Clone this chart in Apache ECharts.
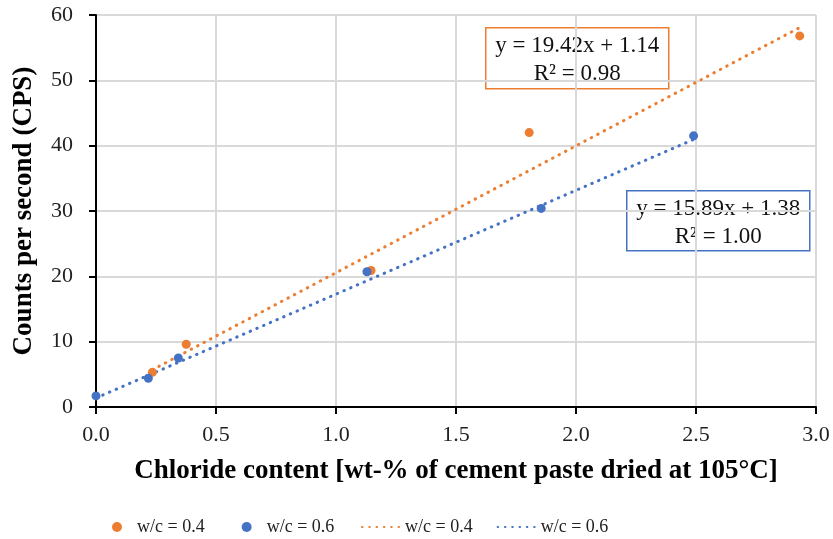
<!DOCTYPE html>
<html>
<head>
<meta charset="utf-8">
<script src="https://cdn.jsdelivr.net/npm/echarts@6/dist/echarts.min.js"></script>
<style>html,body{margin:0;padding:0;background:#fff}#c{width:833px;height:539px}</style>
</head>
<body>
<div id="c"></div>
<script>
// Data
var wc04Points = [[0.235, 5.3], [0.376, 9.6], [1.146, 20.9], [1.805, 42.0], [2.932, 56.8]];
var wc06Points = [[0.0, 1.7], [0.218, 4.4], [0.343, 7.5], [1.129, 20.7], [1.855, 30.4], [2.49, 41.5]];
// Trendline endpoints (y = 19.42x + 1.14 and y = 15.89x + 1.38)
var wc04Trend = [[0.235, 5.70], [2.932, 58.08]];
var wc06Trend = [[0.0, 1.38], [2.49, 40.95]];
var xTicks = ['0.0', '0.5', '1.0', '1.5', '2.0', '2.5', '3.0'];
var yTicks = [0, 10, 20, 30, 40, 50, 60];
var eq04 = ['y = 19.42x + 1.14', 'R² = 0.98'];
var eq06 = ['y = 15.89x + 1.38', 'R² = 1.00'];

var ORANGE = '#ED7D31', BLUE = '#4472C4';
var FONT = '"Liberation Serif", "Times New Roman", serif';
var ZW = '\u200b';

var chart = echarts.init(document.getElementById('c'));
function box(left, top, w, h, color, lines) {
  return {
    type: 'group', left: left, top: top,
    children: [
      {type: 'rect', shape: {x: 0, y: 0, width: w, height: h}, style: {fill: '#fff', stroke: color, lineWidth: 1.5}},
      {type: 'text', x: w / 2, y: h / 2 + 2, style: {text: lines.join('\n'), fill: '#111', font: '23px ' + FONT, align: 'center', verticalAlign: 'middle', lineHeight: 28}}
    ]
  };
}
var dotStyle = function (c) { return {color: c, width: 3, type: [0.5, 6.8], cap: 'round'}; };
chart.setOption({
  animation: false,
  backgroundColor: '#fff',
  grid: {left: 96, right: 17, top: 15, bottom: 132},
  xAxis: {
    type: 'value', min: 0, max: 3, interval: 0.5,
    name: 'Chloride content [wt-% of cement paste dried at 105°C]',
    nameLocation: 'middle', nameGap: 51,
    nameTextStyle: {fontFamily: FONT, fontSize: 27, fontWeight: 'bold', color: '#000'},
    axisLine: {lineStyle: {color: '#000', width: 2}},
    axisTick: {show: true, length: 7, lineStyle: {color: '#000', width: 2}},
    axisLabel: {fontFamily: FONT, fontSize: 22, color: '#222', margin: 17,
      formatter: function (v) { return xTicks[Math.round(v / 0.5)]; }},
    splitLine: {show: true, lineStyle: {color: '#d9d9d9', width: 2}}
  },
  yAxis: {
    type: 'value', min: yTicks[0], max: yTicks[yTicks.length - 1], interval: 10,
    name: 'Counts per second (CPS)',
    nameLocation: 'middle', nameGap: 58,
    nameTextStyle: {fontFamily: FONT, fontSize: 27, fontWeight: 'bold', color: '#000'},
    axisLine: {show: true, lineStyle: {color: '#000', width: 2}},
    axisTick: {show: true, length: 7, lineStyle: {color: '#000', width: 2}},
    axisLabel: {fontFamily: FONT, fontSize: 22, color: '#222', margin: 23},
    splitLine: {show: true, lineStyle: {color: '#d9d9d9', width: 2}}
  },
  legend: [
    {
      data: ['w/c = 0.4', 'w/c = 0.6'],
      left: 107, top: 513, itemWidth: 10, itemHeight: 10, itemGap: 37,
      icon: 'circle',
      textStyle: {fontFamily: FONT, fontSize: 18, color: '#222', padding: [0, 0, 0, 10]}
    },
    {
      data: ['w/c = 0.4' + ZW, 'w/c = 0.6' + ZW],
      left: 356, top: 513, itemWidth: 38, itemHeight: 10, itemGap: 24,
      itemStyle: {opacity: 0},
      formatter: function (n) { return n.replace(ZW, ''); },
      textStyle: {fontFamily: FONT, fontSize: 18, color: '#222'}
    }
  ],
  series: [
    {name: 'w/c = 0.4' + ZW, type: 'line', data: wc04Trend, showSymbol: false, symbol: 'none',
      lineStyle: dotStyle(ORANGE), itemStyle: {color: ORANGE}, z: 2},
    {name: 'w/c = 0.6' + ZW, type: 'line', data: wc06Trend, showSymbol: false, symbol: 'none',
      lineStyle: dotStyle(BLUE), itemStyle: {color: BLUE}, z: 2},
    {name: 'w/c = 0.4', type: 'scatter', data: wc04Points, symbolSize: 9, itemStyle: {color: ORANGE, opacity: 1}, z: 3},
    {name: 'w/c = 0.6', type: 'scatter', data: wc06Points, symbolSize: 9, itemStyle: {color: BLUE, opacity: 1}, z: 4}
  ],
  graphic: [
    box(485, 27, 183, 61, ORANGE, eq04),
    box(626, 190, 183, 60, BLUE, eq06)
  ]
});
</script>
</body>
</html>
